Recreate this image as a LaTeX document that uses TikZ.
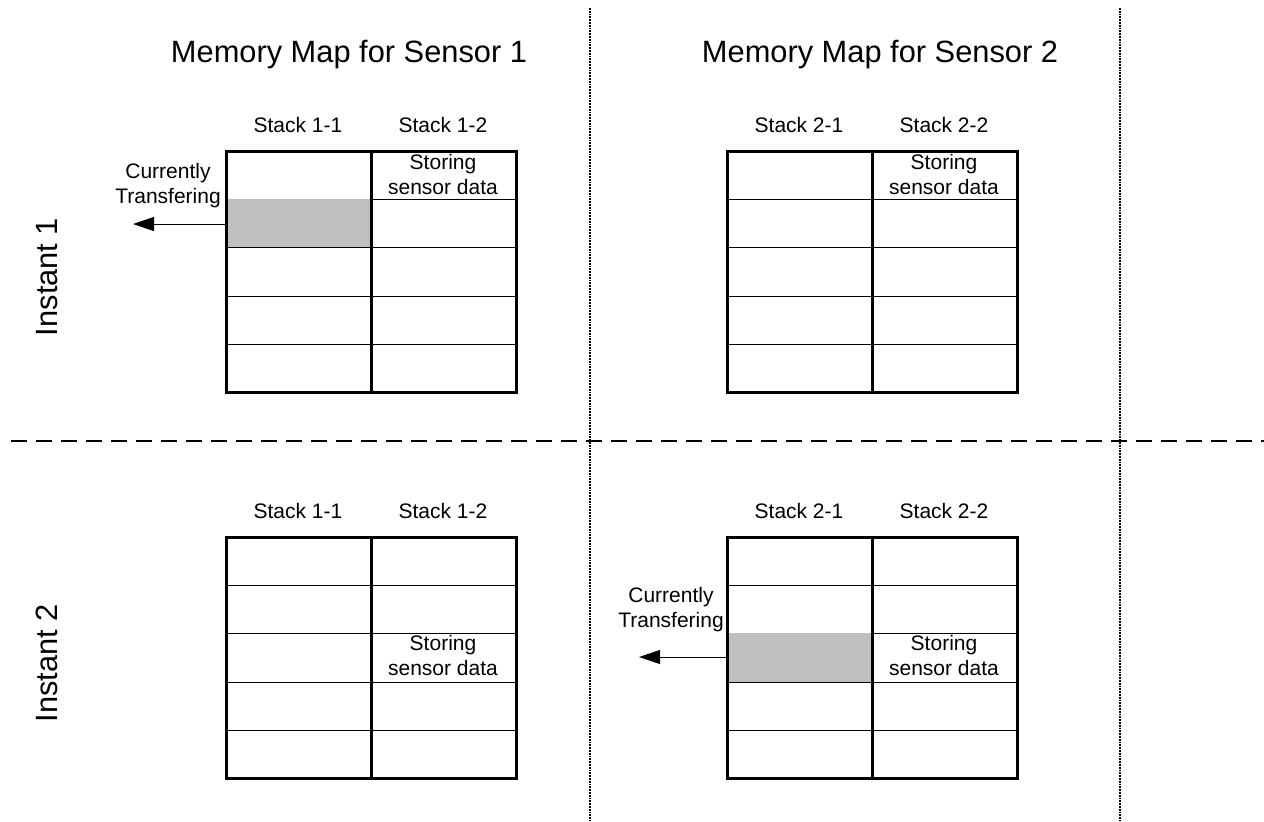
\documentclass[tikz,border=0pt]{standalone}
\usepackage{fontspec}
\setmainfont{Liberation Sans}
\usepackage{tikz}
\usetikzlibrary{arrows.meta}

\tikzset{
  maptitle/.style={font=\fontsize{15.4}{18}\selectfont},
  note/.style={font=\fontsize{10.5}{12.5}\selectfont, align=center, inner sep=0pt},
  rowline/.style={line width=0.5pt},
  frame/.style={line width=1.5pt},
  busy/.style={fill=black!25},
  move/.style={line width=0.5pt, -{Triangle[length=10.5pt,width=7pt]}},
  divider/.style={line width=0.6pt, dash pattern=on 0.9pt off 0.5pt},
  split/.style={line width=1pt, dash pattern=on 7.9pt off 4.6pt}
}

\begin{document}
\begin{tikzpicture}[x=0.5pt,y=-0.5pt]
\useasboundingbox (0,0) rectangle (1264,821);

% grid lines between the two instants and the two sensors
\draw[divider] (590,8) -- (590,821);
\draw[divider] (1120,8) -- (1120,821);
\draw[split] (11,441) -- (1264,441);

\node[maptitle] (title1) at (349,55) {Memory Map for Sensor 1};
\node[maptitle] (title2) at (880,55) {Memory Map for Sensor 2};
\node[maptitle, rotate=90] (inst1) at (47,277) {Instant 1};
\node[maptitle, rotate=90] (inst2) at (47,663) {Instant 2};

% row lines of the four memory maps
\foreach \gx/\gy/\s/\k in {226/151/1/a, 727/151/2/b, 226/537/1/c, 727/537/2/d} {
    \foreach \r in {48,96,145,193}
        \draw[rowline] (\gx,\gy+\r) -- (\gx+290,\gy+\r);
    \node[note] (stack\k1) at (\gx+72,\gy-26) {Stack \s-1};
    \node[note] (stack\k2) at (\gx+217,\gy-26) {Stack \s-2};
}

% cells being transferred
\fill[busy] (226,199) rectangle (371,247);
\fill[busy] (727,633) rectangle (872,682);

\foreach \gx/\gy in {226/151, 727/151, 226/537, 727/537} {
    \draw[frame] (\gx,\gy) rectangle (\gx+290,\gy+241);
    \draw[frame] (\gx+145,\gy) -- (\gx+145,\gy+241);
}

\node[note] (store1) at (443,174) {Storing\\sensor data};
\node[note] (store2) at (944,174) {Storing\\sensor data};
\node[note] (store3) at (443,655) {Storing\\sensor data};
\node[note] (store4) at (944,655) {Storing\\sensor data};

\node[note] (xfer1) at (168,186) {Currently\\Transfering};
\node[note] (xfer2) at (671,610) {Currently\\Transfering};

\coordinate (from1) at (226,224);
\coordinate (to1) at (133,224);
\coordinate (from2) at (727,657);
\coordinate (to2) at (639,657);
\draw[move] (from1) -- (to1);
\draw[move] (from2) -- (to2);
\end{tikzpicture}
\end{document}
